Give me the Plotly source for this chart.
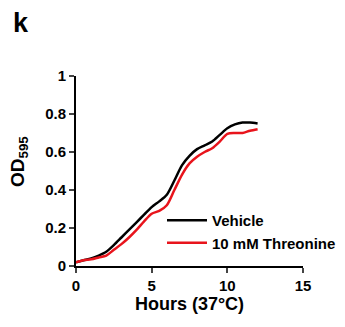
import plotly.graph_objects as go

hours = [0, 0.5, 1, 1.5, 2, 2.5, 3, 3.5, 4, 4.5, 5, 5.5, 6, 6.5, 7, 7.5, 8, 8.5, 9, 9.5, 10, 10.5, 11, 11.5, 12]
vehicle = [0.02, 0.03, 0.04, 0.055, 0.075, 0.11, 0.15, 0.19, 0.23, 0.27, 0.31, 0.34, 0.375, 0.45, 0.53, 0.58,
           0.615, 0.635, 0.655, 0.69, 0.725, 0.745, 0.755, 0.755, 0.75]
threonine = [0.02, 0.03, 0.035, 0.045, 0.055, 0.085, 0.115, 0.15, 0.19, 0.235, 0.275, 0.29, 0.32, 0.40, 0.48, 0.54,
             0.575, 0.60, 0.62, 0.655, 0.695, 0.70, 0.70, 0.712, 0.72]
series_names = ["Vehicle", "10 mM Threonine"]
x_ticks = [0, 5, 10, 15]
y_ticks = [0, 0.2, 0.4, 0.6, 0.8, 1]
y_tick_labels = ["0", "0.2", "0.4", "0.6", "0.8", "1"]

FONT = "Liberation Sans, Arial, sans-serif"
W, H = 345, 327
L, R, T, B = 76, 42, 76, 61
PW, PH = W - L - R, H - T - B


def px_x(px):
    return (px - L) / PW


def px_y(py):
    return (H - B - py) / PH


fig = go.Figure()
fig.add_trace(go.Scatter(x=hours, y=vehicle, mode="lines", name=series_names[0],
                         line=dict(color="black", width=2.5, shape="spline", smoothing=0.8)))
fig.add_trace(go.Scatter(x=hours, y=threonine, mode="lines", name=series_names[1],
                         line=dict(color="#e8141c", width=2.5, shape="spline", smoothing=0.8)))

fig.update_layout(
    width=W, height=H,
    margin=dict(l=L, r=R, t=T, b=B, autoexpand=False),
    paper_bgcolor="white", plot_bgcolor="white",
    font=dict(family=FONT, color="black"),
    showlegend=True,
    legend=dict(xref="container", yref="container", x=162 / W, y=1 - 204 / H, xanchor="left", yanchor="top",
                bgcolor="rgba(0,0,0,0)", font=dict(size=15, family=FONT, weight="bold"),
                itemwidth=40, tracegroupgap=0),
    xaxis=dict(range=[0, 15], tickvals=x_ticks, ticks="outside", ticklen=5, tickwidth=2,
               showline=True, linewidth=2, linecolor="black", showgrid=False, zeroline=False,
               tickfont=dict(size=15, family=FONT, weight="bold"),
               title=dict(text="Hours (37°C)", font=dict(size=18, family=FONT, weight="bold"), standoff=4)),
    yaxis=dict(range=[0, 1], tickvals=y_ticks, ticktext=y_tick_labels, ticks="outside", ticklen=5, tickwidth=2,
               showline=True, linewidth=2, linecolor="black", showgrid=False, zeroline=False,
               tickfont=dict(size=15, family=FONT, weight="bold")),
    annotations=[
        dict(text="<b>k</b>", x=px_x(11), y=px_y(23), xref="paper", yref="paper", showarrow=False,
             xanchor="left", yanchor="middle", font=dict(size=27, family=FONT)),
        dict(text="<b>OD<sub>595</sub></b>", x=px_x(19), y=px_y(162), xref="paper", yref="paper",
             showarrow=False, textangle=-90, xanchor="center", yanchor="middle",
             font=dict(size=19, family=FONT)),
    ],
)

fig.write_html("out.html")
